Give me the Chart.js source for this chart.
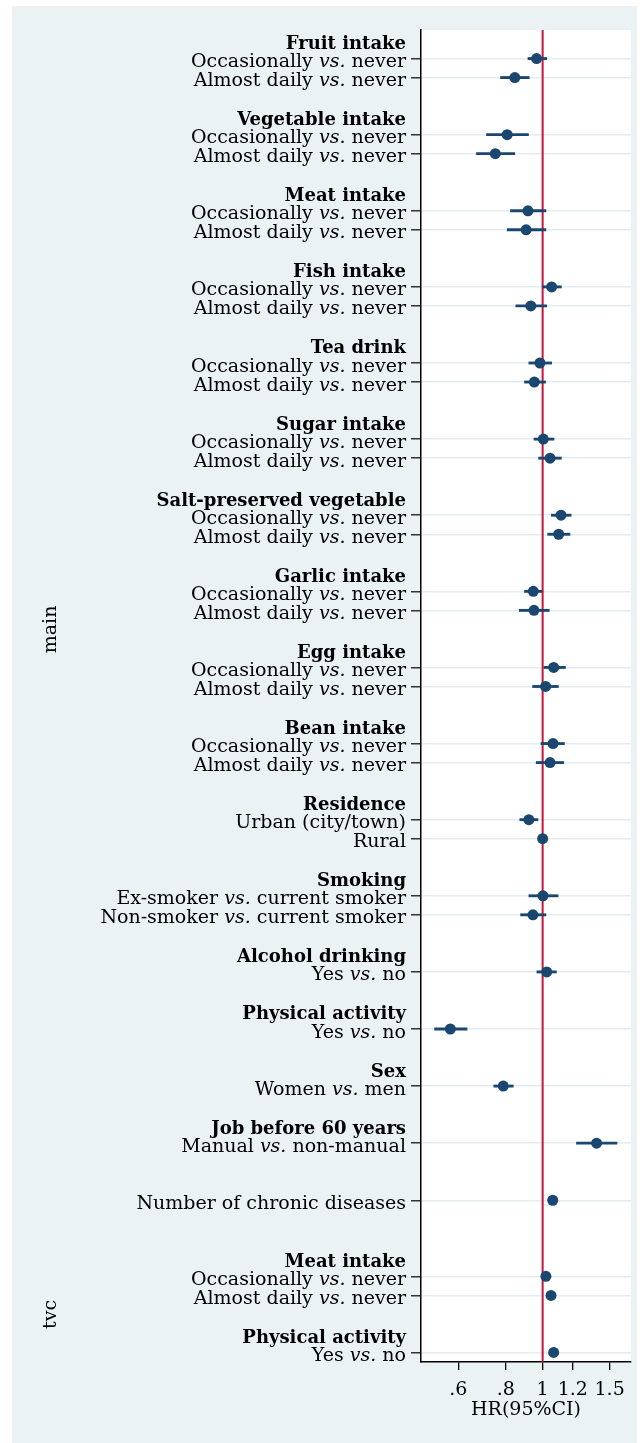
<!DOCTYPE html>
<html>
<head>
<meta charset="utf-8">
<script src="https://cdn.jsdelivr.net/npm/chart.js@4.4.1/dist/chart.umd.min.js"></script>
<style>
html,body{margin:0;padding:0;background:#fff;}
canvas{display:block;}
</style>
</head>
<body>
<canvas id="c" width="640" height="1443"></canvas>
<script>
const O = 'Occasionally vs. never';
const A = 'Almost daily vs. never';

// Row labels (top to bottom). Rows with a label but no HR are group headers.
const rowLabels = [
  'Fruit intake', O, A, '',
  'Vegetable intake', O, A, '',
  'Meat intake', O, A, '',
  'Fish intake', O, A, '',
  'Tea drink', O, A, '',
  'Sugar intake', O, A, '',
  'Salt-preserved vegetable', O, A, '',
  'Garlic intake', O, A, '',
  'Egg intake', O, A, '',
  'Bean intake', O, A, '',
  'Residence', 'Urban (city/town)', 'Rural', '',
  'Smoking', 'Ex-smoker vs. current smoker', 'Non-smoker vs. current smoker', '',
  'Alcohol drinking', 'Yes vs. no', '',
  'Physical activity', 'Yes vs. no', '',
  'Sex', 'Women vs. men', '',
  'Job before 60 years', 'Manual vs. non-manual', '',
  '', 'Number of chronic diseases', '', '',
  'Meat intake', O, A, '',
  'Physical activity', 'Yes vs. no'
];

const hr = [
  null, 0.964, 0.845, null,
  null, 0.807, 0.751, null,
  null, 0.915, 0.905, null,
  null, 1.056, 0.931, null,
  null, 0.984, 0.951, null,
  null, 1.004, 1.046, null,
  null, 1.118, 1.102, null,
  null, 0.945, 0.949, null,
  null, 1.069, 1.018, null,
  null, 1.065, 1.046, null,
  null, 0.920, 1.000, null,
  null, 1.002, 0.943, null,
  null, 1.025, null,
  null, 0.572, null,
  null, 0.788, null,
  null, 1.386, null,
  null, 1.063, null, null,
  null, 1.020, 1.052, null,
  null, 1.069
];

const ciLow = [
  null, 0.915, 0.775, null,
  null, 0.712, 0.670, null,
  null, 0.823, 0.807, null,
  null, 1.000, 0.850, null,
  null, 0.920, 0.896, null,
  null, 0.949, 0.976, null,
  null, 1.054, 1.031, null,
  null, 0.896, 0.868, null,
  null, 1.008, 0.941, null,
  null, 0.990, 0.962, null,
  null, 0.871, 1.000, null,
  null, 0.920, 0.875, null,
  null, 0.966, null,
  null, 0.520, null,
  null, 0.744, null,
  null, 1.227, null,
  null, 1.058, null, null,
  null, 1.015, 1.047, null,
  null, 1.062
];

const ciHigh = [
  null, 1.025, 0.922, null,
  null, 0.918, 0.845, null,
  null, 1.020, 1.020, null,
  null, 1.120, 1.025, null,
  null, 1.056, 1.018, null,
  null, 1.071, 1.120, null,
  null, 1.188, 1.180, null,
  null, 0.996, 1.041, null,
  null, 1.148, 1.100, null,
  null, 1.141, 1.136, null,
  null, 0.972, 1.000, null,
  null, 1.098, 1.020, null,
  null, 1.087, null,
  null, 0.633, null,
  null, 0.837, null,
  null, 1.568, null,
  null, 1.068, null, null,
  null, 1.025, 1.057, null,
  null, 1.076
];

const xTickValues = [0.6, 0.8, 1, 1.2, 1.5];
const xTickLabels = ['.6', '.8', '1', '1.2', '1.5'];
const xTitle = 'HR(95%CI)';
const groupNames = ['main', 'tvc'];
const refValue = 1;

const NAVY = '#1A476F';
const BG = '#EAF2F3';
const FONT = '"DejaVu Serif", "Liberation Serif", serif';

const isItem = i => i != null && hr[i] != null;

const pointData = [];
const ciData = [];
hr.forEach((v, i) => {
  if (v == null) return;
  pointData.push({x: v, y: i});
  ciData.push({x: [ciLow[i], ciHigh[i]], y: i});
});

const bgPlugin = {
  id: 'bg',
  beforeDraw(chart) {
    const {ctx, chartArea} = chart;
    ctx.save();
    ctx.fillStyle = '#fff';
    ctx.fillRect(0, 0, chart.width, chart.height);
    ctx.fillStyle = BG;
    ctx.fillRect(12, 6, 625, chart.height - 6);
    ctx.fillStyle = '#fff';
    ctx.fillRect(chartArea.left, chartArea.top, chartArea.right - chartArea.left, chartArea.bottom - chartArea.top);
    ctx.restore();
  }
};

const refLinePlugin = {
  id: 'refLine',
  beforeDatasetsDraw(chart) {
    const {ctx, chartArea, scales} = chart;
    const x = scales.x.getPixelForValue(refValue);
    ctx.save();
    ctx.strokeStyle = '#C8143C';
    ctx.lineWidth = 2;
    ctx.beginPath();
    ctx.moveTo(x, chartArea.top);
    ctx.lineTo(x, chartArea.bottom);
    ctx.stroke();
    ctx.restore();
  }
};

const labelPlugin = {
  id: 'rowLabels',
  afterDraw(chart) {
    const {ctx, scales} = chart;
    const yS = scales.y;
    const right = scales.y.right - 15;
    ctx.save();
    ctx.fillStyle = '#000';
    ctx.textBaseline = 'alphabetic';
    rowLabels.forEach((lab, i) => {
      if (!lab) return;
      const yc = yS.getPixelForValue(i);
      if (!isItem(i)) {
        ctx.font = 'bold 18px ' + FONT;
        ctx.textAlign = 'right';
        ctx.fillText(lab, right, yc + 9.5);
      } else {
        const parts = lab.split(/(vs\.)/).filter(p => p.length);
        const fonts = parts.map(p => (p === 'vs.' ? 'italic ' : '') + '19px ' + FONT);
        let total = 0;
        const widths = parts.map((p, k) => { ctx.font = fonts[k]; const w = ctx.measureText(p).width; total += w; return w; });
        let x = right - total;
        ctx.textAlign = 'left';
        parts.forEach((p, k) => { ctx.font = fonts[k]; ctx.fillText(p, x, yc + 8.5); x += widths[k]; });
      }
    });
    // group labels
    ctx.font = '19px ' + FONT;
    ctx.textAlign = 'center';
    ctx.textBaseline = 'middle';
    const groupRows = [31, 67];
    groupNames.forEach((g, k) => {
      ctx.save();
      ctx.translate(51, yS.getPixelForValue(groupRows[k]));
      ctx.rotate(-Math.PI / 2);
      ctx.fillText(g, 0, 0);
      ctx.restore();
    });
    ctx.restore();
  }
};

new Chart(document.getElementById('c'), {
  type: 'scatter',
  data: {
    datasets: [
      {
        type: 'scatter',
        data: pointData,
        backgroundColor: NAVY,
        borderWidth: 0,
        pointRadius: 5.5,
        pointHoverRadius: 5.5,
        order: 0
      },
      {
        type: 'bar',
        indexAxis: 'y',
        data: ciData,
        backgroundColor: NAVY,
        borderWidth: 0,
        barThickness: 2.2,
        grouped: false,
        order: 1
      }
    ]
  },
  options: {
    responsive: false,
    animation: false,
    devicePixelRatio: 1,
    layout: { padding: { top: 30, right: 9, bottom: 0, left: 0 } },
    plugins: { legend: { display: false }, tooltip: { enabled: false } },
    scales: {
      x: {
        type: 'logarithmic',
        position: 'bottom',
        min: 0.479,
        max: 1.707,
        beginAtZero: false,
        offset: false,
        afterBuildTicks: s => { s.ticks = xTickValues.map(v => ({value: v})); },
        afterFit: s => { s.height = 81; },
        ticks: {
          autoSkip: false,
          maxRotation: 0,
          color: '#000',
          padding: 9,
          font: { family: FONT, size: 19 },
          callback: (v) => xTickLabels[xTickValues.indexOf(v)]
        },
        grid: { drawOnChartArea: false, drawTicks: true, tickLength: 8, tickColor: '#000', lineWidth: 1.3 },
        border: { display: true, color: '#000', width: 1.5 },
        title: { display: true, text: xTitle, color: '#000', font: { family: FONT, size: 19 }, padding: { top: 0, bottom: 22 } }
      },
      y: {
        type: 'linear',
        reverse: true,
        min: -0.5,
        max: rowLabels.length - 0.5,
        offset: false,
        afterBuildTicks: s => { s.ticks = rowLabels.map((_, i) => ({value: i})); },
        afterFit: s => { s.width = 421; },
        ticks: { display: false },
        grid: {
          offset: false,
          drawOnChartArea: true,
          drawTicks: true,
          tickLength: 10,
          lineWidth: 1.5,
          color: c => isItem(c.tick ? c.tick.value : null) ? '#E4ECEF' : 'rgba(0,0,0,0)',
          tickColor: c => isItem(c.tick ? c.tick.value : null) ? '#333' : 'rgba(0,0,0,0)'
        },
        border: { display: true, color: '#000', width: 1.5 }
      }
    }
  },
  plugins: [bgPlugin, refLinePlugin, labelPlugin]
});
</script>
</body>
</html>
